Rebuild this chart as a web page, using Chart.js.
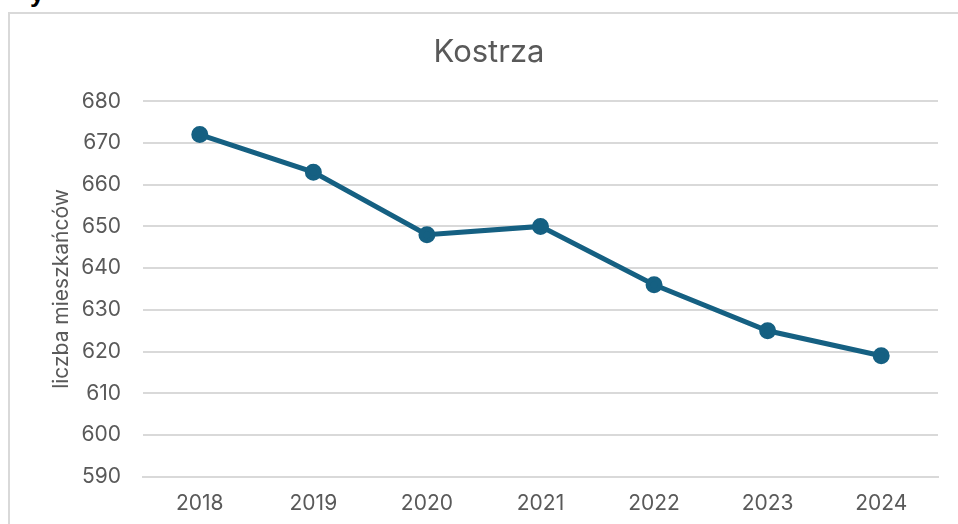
<!DOCTYPE html>
<html>
<head>
<meta charset="utf-8">
<script src="https://cdn.jsdelivr.net/npm/chart.js@4/dist/chart.umd.min.js"></script>
<style>
  html, body { margin: 0; padding: 0; background: #fff; overflow: hidden; width: 958px; height: 524px; }
  #frag { position: absolute; left: 30px; top: -22px; font: bold 26px "Liberation Sans", sans-serif; color: #000; }
  #frame { position: absolute; left: 8px; top: 12px; width: 980px; height: 540px; border: 2px solid #d9d9d9; box-sizing: border-box; }
  #wrap { position: absolute; left: 10px; top: 14px; width: 958px; height: 516px; }
</style>
</head>
<body>
<div id="frag">y</div>
<div id="frame"></div>
<div id="wrap"><canvas id="chart"></canvas></div>
<script>
// ----------------------
// Data
// ----------------------
const years = ["2018", "2019", "2020", "2021", "2022", "2023", "2024"];
const residents = [672, 663, 648, 650, 636, 625, 619];
const yMin = 590;
const yMax = 680;
const yStep = 10;

const lineColor = "#156082";
const gridColor = "#d9d9d9";
const textColor = "#595959";

Chart.defaults.font.family = "Inter, 'Noto Sans', sans-serif";

new Chart(document.getElementById("chart"), {
  type: "line",
  data: {
    labels: years,
    datasets: [{
      label: "Kostrza",
      data: residents,
      borderColor: lineColor,
      backgroundColor: lineColor,
      borderWidth: 5,
      pointRadius: 6,
      pointHoverRadius: 6,
      tension: 0
    }]
  },
  options: {
    responsive: true,
    maintainAspectRatio: false,
    animation: false,
    layout: { padding: { left: 30, right: 30, bottom: 0, top: 0 } },
    plugins: {
      legend: { display: false },
      tooltip: { enabled: false },
      title: {
        display: true,
        text: "Kostrza",
        color: textColor,
        font: { size: 31, weight: "normal" },
        padding: { top: 20, bottom: 30 }
      }
    },
    scales: {
      x: {
        offset: true,
        grid: { display: false, drawTicks: false },
        border: { color: gridColor, width: 2 },
        ticks: { color: textColor, font: { size: 21 }, padding: 14 }
      },
      y: {
        min: yMin,
        max: yMax,
        afterFit: (axis) => { axis.width = 103; },
        grid: { color: gridColor, lineWidth: 2, drawTicks: false },
        border: { display: false },
        ticks: { stepSize: yStep, color: textColor, font: { size: 21 }, padding: 22 },
        title: {
          display: true,
          text: "liczba mieszkańców",
          color: textColor,
          font: { size: 21 },
          padding: { top: 9, bottom: 0 }
        }
      }
    }
  }
});
</script>
</body>
</html>
